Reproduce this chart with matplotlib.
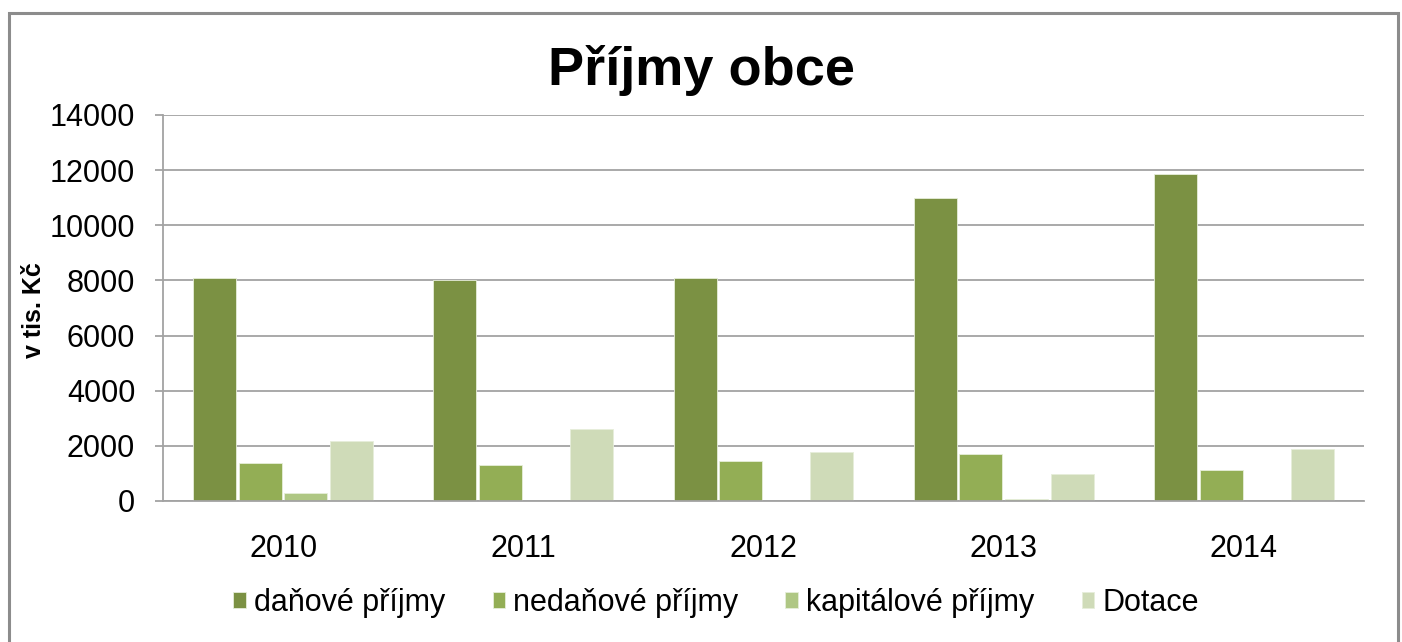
import matplotlib
matplotlib.use("Agg")
import matplotlib.pyplot as plt
import numpy as np
from matplotlib.patches import Rectangle

plt.rcParams['font.family'] = ['Liberation Sans', 'DejaVu Sans']

years = ["2010", "2011", "2012", "2013", "2014"]
series_names = ["daňové příjmy", "nedaňové příjmy", "kapitálové příjmy", "Dotace"]
danove = [8080, 8020, 8090, 11000, 11860]
nedanove = [1380, 1310, 1460, 1720, 1140]
kapitalove = [290, 0, 0, 60, 0]
dotace = [2170, 2600, 1780, 970, 1890]
colors = ["#7B9143", "#93AE55", "#AFC784", "#CFDBB8"]
yticks = [0, 2000, 4000, 6000, 8000, 10000, 12000, 14000]

W, H = 1402, 642
fig = plt.figure(figsize=(W / 100, H / 100), dpi=100)
ax = fig.add_axes([163 / W, 1 - 501 / H, (1364 - 163) / W, (501 - 115) / H])

x = np.arange(len(years))
slot = 0.19
bw = 0.179
all_series = [danove, nedanove, kapitalove, dotace]
for i, (vals, name, c) in enumerate(zip(all_series, series_names, colors)):
    ax.bar(x + (i - 1.5) * slot, vals, width=bw, color=c, edgecolor="#E6EEDA",
           linewidth=0.6, label=name, zorder=3)

ax.set_xlim(-0.5, len(years) - 0.5)
ax.set_ylim(0, 14000)
ax.set_yticks(yticks)
ax.set_yticklabels([str(v) for v in yticks])
ax.set_xticks(x)
ax.set_xticklabels(years)

ax.yaxis.grid(True, color="#A3A3A3", linewidth=1.3, zorder=0)
ax.set_axisbelow(True)
for s in ["top", "right"]:
    ax.spines[s].set_visible(False)
ax.spines["left"].set_color("#A3A3A3")
ax.spines["left"].set_linewidth(1.3)
ax.spines["bottom"].set_color("#A3A3A3")
ax.spines["bottom"].set_linewidth(1.3)
ax.spines["bottom"].set_zorder(4)

ax.tick_params(axis="y", length=6, width=1.3, color="#A3A3A3", pad=14, labelsize=22)
ax.tick_params(axis="x", length=0, pad=24, labelsize=22)

fig.text(0.5, 1 - 70 / H, "Příjmy obce", ha="center", va="center",
         fontsize=39, fontweight="bold")
fig.text(34 / W, 1 - 310 / H, "v tis. Kč", rotation=90, ha="center", va="center",
         fontsize=18, fontweight="bold")

fig.legend(loc="center", bbox_to_anchor=(716 / W, 1 - 603 / H), ncol=4,
           frameon=False, fontsize=22, handlelength=0.42, handleheight=0.42,
           handletextpad=0.25, columnspacing=1.55)

fig.patches.append(Rectangle((9 / W, -0.02), (1398 - 9) / W, 1 - 13 / H + 0.02,
                             transform=fig.transFigure, fill=False,
                             edgecolor="#8C8C8C", linewidth=2.2))

fig.savefig("out.png", dpi=100)
